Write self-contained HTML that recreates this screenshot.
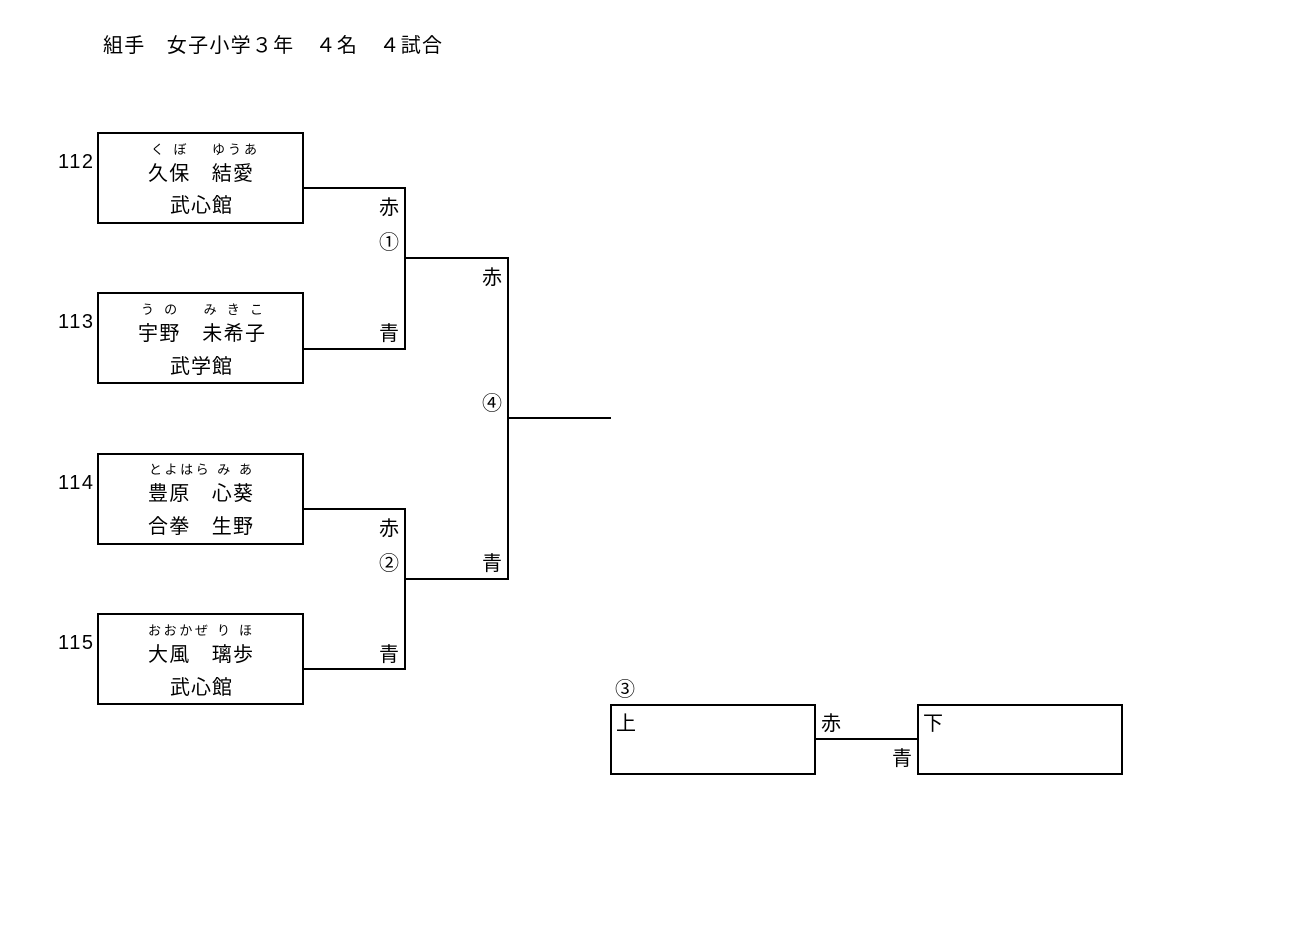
<!DOCTYPE html>
<html><head><meta charset="utf-8"><style>
body{margin:0;background:#fff}
svg{display:block}
text{font-family:"Liberation Sans","Noto Sans CJK JP",sans-serif;fill:#000}
</style></head><body>
<svg width="1306" height="930" viewBox="0 0 1306 930">
<g fill="none" stroke="#000" stroke-width="2">
<rect x="98" y="133" width="205" height="90"/>
<rect x="98" y="293" width="205" height="90"/>
<rect x="98" y="454" width="205" height="90"/>
<rect x="98" y="614" width="205" height="90"/>
<polyline points="303,188 405,188 405,349 303,349"/>
<polyline points="303,509 405,509 405,669 303,669"/>
<polyline points="405,258 508,258 508,579 405,579"/>
<line x1="508" y1="418" x2="611" y2="418"/>
<rect x="611" y="705" width="204" height="69"/>
<rect x="918" y="705" width="204" height="69"/>
<line x1="815" y1="739" x2="918" y2="739"/>
</g>
<text x="103" y="52" font-size="20" textLength="339" lengthAdjust="spacing">組手　女子小学３年　４名　４試合</text>
<g font-size="20">
<text x="58" y="168" textLength="35">112</text>
<text x="58" y="328" textLength="35">113</text>
<text x="58" y="489" textLength="35">114</text>
<text x="58" y="649" textLength="35">115</text>
</g>
<g font-size="13">
<text x="151" y="154" textLength="106">く ぼ　 ゆうあ</text>
<text x="141" y="314" textLength="122">う の　 み き こ</text>
<text x="149" y="474" textLength="103">とよはら み あ</text>
<text x="148" y="635" textLength="104">おおかぜ り ほ</text>
</g>
<g font-size="20" lengthAdjust="spacing">
<text x="148" y="180" textLength="105">久保　結愛</text>
<text x="170" y="212" textLength="62">武心館</text>
<text x="138" y="340" textLength="127">宇野　未希子</text>
<text x="170" y="373" textLength="62">武学館</text>
<text x="148" y="500" textLength="105">豊原　心葵</text>
<text x="148" y="533" textLength="105">合拳　生野</text>
<text x="148" y="661" textLength="105">大風　璃歩</text>
<text x="170" y="694" textLength="62">武心館</text>
</g>
<g text-anchor="middle" font-size="20">
<text x="389" y="214">赤</text>
<text x="389" y="249">①</text>
<text x="389" y="340">青</text>
<text x="389" y="535">赤</text>
<text x="389" y="570">②</text>
<text x="389" y="661">青</text>
<text x="492" y="284">赤</text>
<text x="492" y="410">④</text>
<text x="492" y="570">青</text>
<text x="625" y="696">③</text>
<text x="831" y="730">赤</text>
<text x="902" y="765">青</text>
</g>
<text x="616" y="730" font-size="20">上</text>
<text x="923" y="730" font-size="20">下</text>
</svg>
</body></html>
